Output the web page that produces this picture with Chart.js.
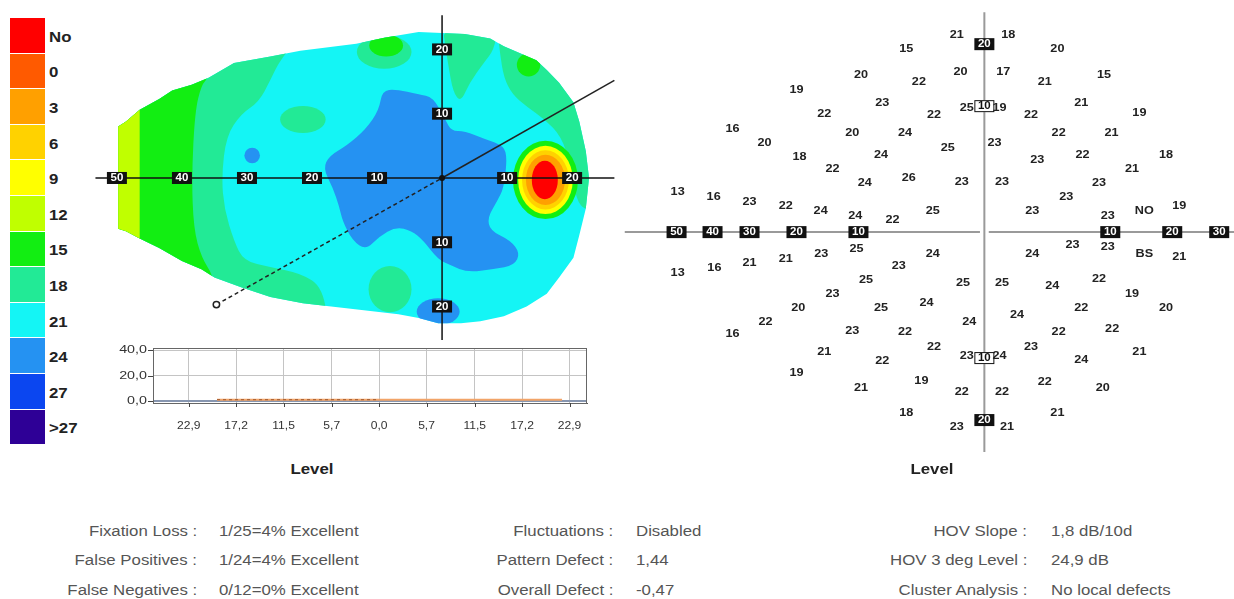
<!DOCTYPE html>
<html>
<head>
<meta charset="utf-8">
<script src="https://cdn.jsdelivr.net/npm/chart.js@4.4.1/dist/chart.umd.min.js"></script>
<style>
  html, body { margin: 0; padding: 0; background: #fff; }
  #page { position: relative; width: 1234px; height: 599px; overflow: hidden; font-family: Arial, "Liberation Sans", sans-serif; }
  canvas { position: absolute; }
  .swatch { position: absolute; left: 10px; width: 35px; }
  .swatch-label { position: absolute; left: 49px; font: bold 14px Arial, sans-serif; color: #222; line-height: 16px;
                  transform: scaleX(1.2); transform-origin: left center; }
  .level { position: absolute; font: bold 14px Arial, sans-serif; color: #222; transform: translateX(-50%) scaleX(1.2); }
  .stat { position: absolute; font: 14px Arial, sans-serif; color: #555; line-height: 16px; white-space: nowrap; }
  .stat.lab { transform: scaleX(1.2); transform-origin: right center; }
  .stat.val { transform: scaleX(1.2); transform-origin: left center; }
</style>
</head>
<body>
<div id="page">
  <div id="legend"></div>
  <canvas id="map-chart" style="left:88px;top:6px" width="541" height="343"></canvas>
  <canvas id="profile-chart" style="left:100px;top:340px" width="500" height="100"></canvas>
  <canvas id="numeric-chart" style="left:619px;top:0px" width="615" height="460"></canvas>
  <div class="level" style="left:312px;top:461px">Level</div>
  <div class="level" style="left:932px;top:461px">Level</div>
  <div id="stats"></div>
</div>
<script>
/* ── Colour scale (dB) ── */
const levelLabels = ['No', '0', '3', '6', '9', '12', '15', '18', '21', '24', '27', '>27'];
const levelColors = ['#FF0000', '#FF5A00', '#FFA000', '#FFD200', '#FFFF00', '#C0FF00',
                     '#12EE12', '#22EA96', '#14F5F5', '#2592F2', '#0B46F0', '#2E0096'];

/* ── Left map: tested area and contour zones, in degrees ── */
const fieldEdge = [[-49.8,8.0],[-48.6,8.8],[-46.5,10.6],[-43.5,12.3],[-41.5,13.6],[-38.5,14.5],[-35.9,15.6],
  [-32.0,17.9],[-26.4,18.9],[-21.8,19.8],[-13.2,20.9],[-8.9,21.8],[-3.6,22.7],[3.5,22.4],[7.4,21.7],[9.5,20.5],
  [12.0,19.4],[14.5,18.3],[16.1,16.8],[18.0,14.8],[20.2,11.8],[21.1,8.8],[22.1,4.2],[22.6,0],[22.1,-4.8],
  [21.1,-8.9],[20.2,-12.4],[18.0,-15.5],[16.1,-18.0],[13.0,-20.0],[9.5,-21.5],[5.9,-22.3],[2.9,-22.6],
  [-0.6,-22.6],[-3.6,-21.8],[-6.7,-21.2],[-12.7,-20.5],[-21.4,-19.5],[-26.4,-18.5],[-30.9,-17.0],[-35.0,-15.5],
  [-37.0,-14.2],[-40.0,-12.9],[-43.5,-10.9],[-46.5,-9.4],[-48.6,-8.3],[-49.8,-7.9]];

const zone18West = [[-20.3,23.9],[-24.8,18.6],[-26.4,15.2],[-28.2,11.8],[-30.9,10],[-33.2,6.5],[-33.9,0.2],
  [-33.5,-4.8],[-32,-9.8],[-30.5,-12.9],[-26.4,-13.9],[-21.8,-14.8],[-18.3,-17],[-17.3,-24.5],[-53.6,-24.5],[-53.6,23.9]];
const zone15West = [[-34.7,23.9],[-35.9,15.6],[-37,14.5],[-38,10.3],[-38.5,0.2],[-38.2,-7.9],[-37,-12.4],
  [-35,-15.5],[-33.6,-24.5],[-53.6,-24.5],[-53.6,23.9]];
const zone12West = [[-53.6,23.9],[-46.5,23.9],[-46.5,-24.5],[-53.6,-24.5]];
const zone18North = [[0.15,23.2],[8.5,23.2],[8,20],[6.4,17.9],[4.2,14.8],[2.9,11.8],[1.7,13.3],[0.9,17.9],[0.45,20.9]];
const zone18Rim = [[8.5,23.2],[26.7,23.2],[26.7,-4.8],[22.1,-5.2],[20.6,-3.3],[19.8,2],[18.3,6.5],[15.8,9.1],
  [13,11.1],[10.8,13],[9.5,15.6],[8.9,19.4]];
const zone24Centre = [[-18.3,1.5],[-17.3,3.5],[-14.7,5],[-11.7,7.6],[-9.7,10.6],[-9.2,13.6],[-7.1,13.8],[-3.6,13],
  [-1.4,12.6],[0.5,9.1],[1.4,7.3],[3.5,7.3],[6.5,6.1],[9.5,5],[10,3],[9.5,-1.5],[8.5,-3.6],[7,-6.1],[7.4,-8.2],
  [10.5,-9.7],[12,-11.7],[11.1,-13.6],[8,-14.2],[3.9,-14.7],[1.4,-13.6],[-0.6,-12.7],[-2.9,-9.7],[-4.7,-8.2],
  [-7.1,-7.6],[-9.7,-9.1],[-11.7,-11.2],[-13.8,-9.7],[-15.3,-6.7],[-15.8,-4.5],[-16.8,-1.5]];

const zones = [
  { pts: zone18West, level: 7, smooth: true },
  { pts: zone15West, level: 6, smooth: true },
  { pts: zone12West, level: 5, smooth: false },
  { pts: zone18North, level: 7, smooth: true },
  { pts: zone18Rim, level: 7, smooth: true },
  { pts: zone24Centre, level: 9, smooth: true }
];

// small patches: centre and radii in degrees
const spots = [
  { x: -21.4, y: 9.1, rx: 3.5, ry: 2.1, level: 7 },
  { x: -29.2, y: 3.5, rx: 1.2, ry: 1.2, level: 9 },
  { x: -8.9, y: 19.6, rx: 4.2, ry: 2.6, level: 7 },
  { x: -8.6, y: 20.6, rx: 2.6, ry: 1.7, level: 6 },
  { x: 13.3, y: 17.6, rx: 1.8, ry: 1.8, level: 6 },
  { x: -8.0, y: -17.3, rx: 3.3, ry: 3.6, level: 7 },
  { x: -0.6, y: -20.8, rx: 3.3, ry: 2.1, level: 9 },
  // blind spot
  { x: 15.9, y: -0.3, rx: 5.0, ry: 6.1, level: 6 },
  { x: 15.9, y: -0.3, rx: 4.2, ry: 5.3, level: 4 },
  { x: 15.9, y: -0.3, rx: 3.6, ry: 4.6, level: 3 },
  { x: 15.9, y: -0.3, rx: 3.0, ry: 3.9, level: 2 },
  { x: 15.8, y: -0.3, rx: 2.0, ry: 3.0, level: 0 }
];

const meridianH = [[-53.3, 0], [26.5, 0]];
const meridianV = [[0, 25.3], [0, -25.2]];
const sectionNear = [[-34.7, -19.7], [0, 0]];
const sectionFar = [[0, 0], [26.5, 15.2]];
const mapTicksX = [-50, -40, -30, -20, -10, 10, 20];
const mapTicksY = [20, 10, -10, -20];

/* ── Profile along the section line ── */
const profileTicks = [-22.9, -17.2, -11.5, -5.7, 0, 5.7, 11.5, 17.2, 22.9];
const profileTickLabels = ['22,9', '17,2', '11,5', '5,7', '0,0', '5,7', '11,5', '17,2', '22,9'];
const depthTicks = [0, 20, 40];
const depthTickLabels = ['0,0', '20,0', '40,0'];
const profileX = [-19.5, 0, 22.0];
const profileY = [1, 1, 1];

/* ── Right plot: threshold values at test locations (deg) ── */
const fieldX = [-6.2,-2.2,-9.8,-5.2,-1.9,-20.0,-8.1,-4.0,-1.4,-15.5,
  -34.6,-11.0,-6.3,-2.9,-26.8,-19.5,-8.2,-14.2,-6.0,-1.8,
  -9.5,-49.7,-39.7,-30.0,-22.3,-16.1,-10.5,-7.3,-4.1,
  1.9,5.8,1.5,4.8,9.5,1.2,3.7,7.7,14.7,5.9,10.2,
  0.8,4.2,7.8,19.0,13.5,1.4,9.1,6.5,3.8,9.8,15.5,21.5,
  -10.3,-16.0,-22.3,-30.0,-39.5,-49.7,-6.8,-9.4,-14.2,-8.2,
  -19.7,-26.6,-34.6,-11.0,-6.3,-15.5,-8.1,-20.0,-9.8,-6.2,
  -5.0,-4.1,-4.6,-4.0,-1.7,-1.2,-1.4,-1.8,-2.2,
  3.8,7.0,9.8,15.5,21.5,1.4,5.4,9.1,13.5,19.0,
  2.6,7.7,5.9,10.3,1.2,3.7,7.7,14.7,1.4,4.8,9.4,5.8,1.8];
const fieldY = [19.2,21.9,15.0,13.9,15.5,12.7,10.5,9.3,9.9,9.4,
  8.2,7.9,7.9,6.7,7.1,6.0,6.1,5.0,4.3,4.0,
  3.9,3.2,2.8,2.4,2.1,1.7,1.3,1.0,1.7,
  21.9,19.2,15.6,13.9,15.0,9.9,9.3,10.5,9.5,7.9,7.9,
  7.1,5.7,6.1,6.1,5.0,4.0,3.9,2.8,1.7,1.3,1.7,2.1,
  -1.3,-1.7,-2.1,-2.4,-2.8,-3.2,-2.7,-3.8,-4.9,-6.0,
  -6.0,-7.1,-8.1,-7.8,-7.9,-9.5,-10.5,-12.4,-14.8,-18.9,
  -13.7,-1.7,-5.6,-9.1,-4.0,-7.1,-9.8,-15.5,-21.5,
  -1.7,-1.0,-1.2,-1.7,-2.0,-4.0,-4.3,-3.7,-4.9,-6.0,
  -6.6,-6.0,-7.9,-7.7,-9.8,-9.1,-10.3,-9.5,-15.5,-13.9,-14.8,-18.9,-21.5];
const fieldVal = [15,21,20,22,20,19,23,22,25,22,
  16,20,24,25,20,18,24,22,26,23,
  24,13,16,23,22,24,24,22,25,
  18,20,17,21,15,19,22,21,19,22,21,
  23,23,22,18,21,23,23,23,23,23,'NO',19,
  25,23,21,21,16,13,23,25,23,25,
  20,22,16,23,22,21,22,19,21,18,
  19,24,24,22,25,24,23,22,23,
  24,23,23,'BS',21,25,24,22,19,20,
  24,22,22,22,24,23,24,21,22,22,20,21,21];
const numTicksX = [-50, -40, -30, -20, -10, 10, 20, 30];
const numTicksY = [20, 10, -10, -20];

/* ── Indices ── */
const statLabels = [
  ['Fixation Loss :', 'False Positives :', 'False Negatives :'],
  ['Fluctuations :', 'Pattern Defect :', 'Overall Defect :'],
  ['HOV Slope :', 'HOV 3 deg Level :', 'Cluster Analysis :']
];
const statValues = [
  ['1/25=4% Excellent', '1/24=4% Excellent', '0/12=0% Excellent'],
  ['Disabled', '1,44', '-0,47'],
  ['1,8 dB/10d', '24,9 dB', 'No local defects']
];

/* ═══════════════════════════════════════════════
   NON-LINEAR SCALE for the numeric plot
   ═══════════════════════════════════════════════ */
const warpKnots = [[0, 0], [10, 126], [20, 188], [30, 235], [40, 272], [50, 308], [80, 416]];

function warp(v) {
  const a = Math.abs(v);
  for (let i = 1; i < warpKnots.length; i++) {
    const [d0, p0] = warpKnots[i - 1], [d1, p1] = warpKnots[i];
    if (a <= d1 || i === warpKnots.length - 1) {
      return Math.sign(v) * (p0 + (a - d0) * (p1 - p0) / (d1 - d0));
    }
  }
  return 0;
}

function unwarp(w) {
  const a = Math.abs(w);
  for (let i = 1; i < warpKnots.length; i++) {
    const [d0, p0] = warpKnots[i - 1], [d1, p1] = warpKnots[i];
    if (a <= p1 || i === warpKnots.length - 1) {
      return Math.sign(w) * (d0 + (a - p0) * (d1 - d0) / (p1 - p0));
    }
  }
  return 0;
}

class WarpScale extends Chart.LinearScale {
  static id = 'warp';
  static defaults = Chart.LinearScale.defaults;
  getPixelForValue(value) {
    if (value === null || value === undefined) return NaN;
    const w0 = warp(this.min), w1 = warp(this.max);
    return this.getPixelForDecimal((warp(value) - w0) / (w1 - w0));
  }
  getValueForPixel(pixel) {
    const w0 = warp(this.min), w1 = warp(this.max);
    return unwarp(w0 + this.getDecimalForPixel(pixel) * (w1 - w0));
  }
}
Chart.register(WarpScale);

/* ── helpers ── */
const toXY = pts => pts.map(([x, y]) => ({ x, y }));

// text stretched sideways, as in the printout
function wideText(ctx, text, px, py, sx) {
  ctx.save();
  ctx.translate(px, py);
  ctx.scale(sx, 1);
  ctx.fillText(text, 0, 0);
  ctx.restore();
}

function drawTag(ctx, text, px, py, dark) {
  ctx.font = 'bold 10px Arial';
  const w = Math.max(20, ctx.measureText(text).width * 1.15 + 6), h = 12;
  ctx.fillStyle = dark ? '#111' : '#fff';
  ctx.fillRect(px - w / 2, py - h / 2, w, h);
  if (!dark) {
    ctx.strokeStyle = '#111';
    ctx.lineWidth = 1;
    ctx.strokeRect(px - w / 2 + 0.5, py - h / 2 + 0.5, w - 1, h - 1);
  }
  ctx.fillStyle = dark ? '#fff' : '#111';
  ctx.textAlign = 'center';
  ctx.textBaseline = 'middle';
  wideText(ctx, text, px, py + 0.5, 1.15);
}

/* ═══════════════════════════════════════════════
   LEGEND + TEXT
   ═══════════════════════════════════════════════ */
const legendEl = document.getElementById('legend');
levelLabels.forEach((lab, i) => {
  const top = 18 + i * 35.6;
  const sw = document.createElement('div');
  sw.className = 'swatch';
  sw.style.top = top + 'px';
  sw.style.height = '34.6px';
  sw.style.background = levelColors[i];
  legendEl.appendChild(sw);
  const tx = document.createElement('div');
  tx.className = 'swatch-label';
  tx.style.top = (top + 17.3 - 6.5) + 'px';
  tx.textContent = lab;
  legendEl.appendChild(tx);
});

const statsEl = document.getElementById('stats');
const statLabelRight = [197, 613, 1027];
const statValueLeft = [219, 636, 1051];
const statRowY = [531, 560, 590];
statLabels.forEach((col, c) => {
  col.forEach((lab, r) => {
    const l = document.createElement('div');
    l.className = 'stat lab';
    l.style.right = (1234 - statLabelRight[c]) + 'px';
    l.style.top = (statRowY[r] - 8) + 'px';
    l.textContent = lab;
    statsEl.appendChild(l);
    const v = document.createElement('div');
    v.className = 'stat val';
    v.style.left = statValueLeft[c] + 'px';
    v.style.top = (statRowY[r] - 8) + 'px';
    v.textContent = statValues[c][r];
    statsEl.appendChild(v);
  });
});

/* ═══════════════════════════════════════════════
   LEFT MAP
   ═══════════════════════════════════════════════ */
const fieldMapPlugin = {
  id: 'fieldMap',
  beforeDatasetsDraw(chart) {
    const { ctx, scales: { x, y } } = chart;
    const P = ([a, b]) => [x.getPixelForValue(a), y.getPixelForValue(b)];
    const trace = (pts, smooth) => {
      const px = pts.map(P);
      ctx.beginPath();
      if (!smooth) {
        px.forEach(([a, b], i) => (i ? ctx.lineTo(a, b) : ctx.moveTo(a, b)));
      } else {
        const n = px.length;
        const mid = i => [(px[i % n][0] + px[(i + 1) % n][0]) / 2, (px[i % n][1] + px[(i + 1) % n][1]) / 2];
        const m0 = mid(0);
        ctx.moveTo(m0[0], m0[1]);
        for (let i = 1; i <= n; i++) {
          const p = px[i % n], m = mid(i);
          ctx.quadraticCurveTo(p[0], p[1], m[0], m[1]);
        }
      }
      ctx.closePath();
    };
    ctx.save();
    trace(fieldEdge, false);
    ctx.fillStyle = levelColors[8];
    ctx.fill();
    ctx.clip();
    zones.forEach(z => {
      trace(z.pts, z.smooth);
      ctx.fillStyle = levelColors[z.level];
      ctx.fill();
    });
    spots.forEach(s => {
      const [cx, cy] = P([s.x, s.y]);
      const rx = Math.abs(x.getPixelForValue(s.x + s.rx) - cx);
      const ry = Math.abs(y.getPixelForValue(s.y + s.ry) - cy);
      ctx.beginPath();
      ctx.ellipse(cx, cy, rx, ry, 0, 0, Math.PI * 2);
      ctx.fillStyle = levelColors[s.level];
      ctx.fill();
    });
    ctx.restore();
  },
  afterDatasetsDraw(chart) {
    const { ctx, scales: { x, y } } = chart;
    ctx.save();
    mapTicksX.forEach(v => drawTag(ctx, String(Math.abs(v)), x.getPixelForValue(v), y.getPixelForValue(0), true));
    mapTicksY.forEach(v => drawTag(ctx, String(Math.abs(v)), x.getPixelForValue(0), y.getPixelForValue(v), true));
    ctx.restore();
  }
};

new Chart(document.getElementById('map-chart'), {
  type: 'scatter',
  data: {
    datasets: [
      { data: [{ x: 0, y: 0 }], pointRadius: 3, pointBackgroundColor: '#111', pointBorderWidth: 0 },
      { data: toXY([sectionNear[0]]), pointRadius: 3.2, pointBackgroundColor: '#fff', pointBorderColor: '#222', pointBorderWidth: 1.5 },
      { data: toXY(meridianH), showLine: true, borderColor: '#111', borderWidth: 1.5, pointRadius: 0 },
      { data: toXY(meridianV), showLine: true, borderColor: '#111', borderWidth: 1.5, pointRadius: 0 },
      { data: toXY(sectionFar), showLine: true, borderColor: '#222', borderWidth: 1.5, pointRadius: 0 },
      { data: toXY(sectionNear), showLine: true, borderColor: '#222', borderWidth: 1.5, borderDash: [4, 3], pointRadius: 0 }
    ]
  },
  options: {
    responsive: false,
    animation: false,
    layout: { padding: 0 },
    plugins: { legend: { display: false }, tooltip: { enabled: false } },
    scales: {
      x: { type: 'linear', min: -53.6, max: 27.9, display: false },
      y: { type: 'linear', min: -25.75, max: 25.9, display: false }
    }
  },
  plugins: [fieldMapPlugin]
});

/* ═══════════════════════════════════════════════
   PROFILE CHART
   ═══════════════════════════════════════════════ */
const profileFrame = {
  id: 'profileFrame',
  afterDraw(chart) {
    const { ctx, chartArea: a, scales: { x, y } } = chart;
    ctx.save();
    ctx.strokeStyle = '#666';
    ctx.lineWidth = 1;
    ctx.strokeRect(a.left + 0.5, a.top + 0.5, a.right - a.left - 1, a.bottom - a.top);
    ctx.strokeStyle = '#444';
    ctx.beginPath();
    depthTicks.forEach(v => {
      const py = Math.round(y.getPixelForValue(v)) + 0.5;
      ctx.moveTo(a.left - 5, py);
      ctx.lineTo(a.left, py);
    });
    profileTicks.forEach(v => {
      const px = Math.round(x.getPixelForValue(v)) + 0.5;
      ctx.moveTo(px, a.bottom);
      ctx.lineTo(px, a.bottom + 4);
    });
    ctx.stroke();
    ctx.fillStyle = '#333';
    ctx.font = '11px Arial';
    ctx.textBaseline = 'middle';
    ctx.textAlign = 'right';
    depthTicks.forEach((v, i) => wideText(ctx, depthTickLabels[i], a.left - 6, y.getPixelForValue(v), 1.3));
    ctx.textAlign = 'center';
    profileTicks.forEach((v, i) => wideText(ctx, profileTickLabels[i], x.getPixelForValue(v), a.bottom + 23, 1.1));
    ctx.restore();
  }
};

new Chart(document.getElementById('profile-chart'), {
  type: 'scatter',
  data: {
    datasets: [
      { data: profileX.slice(0, 2).map((v, i) => ({ x: v, y: profileY[i] })), showLine: true,
        borderColor: '#A0582C', borderWidth: 1, borderDash: [3, 3], pointRadius: 0 },
      { data: profileX.map((v, i) => ({ x: v, y: profileY[i] })), showLine: true,
        borderColor: '#F2A468', borderWidth: 2, pointRadius: 0 }
    ]
  },
  options: {
    responsive: false,
    animation: false,
    layout: { padding: { left: 53, right: 13, top: 8, bottom: 37 } },
    plugins: { legend: { display: false }, tooltip: { enabled: false } },
    scales: {
      x: {
        type: 'linear', min: -27.2, max: 25,
        afterBuildTicks: axis => { axis.ticks = profileTicks.map(v => ({ value: v })); },
        ticks: { display: false },
        grid: { color: '#c4c4c4', drawTicks: false },
        border: { color: '#555' }
      },
      y: {
        type: 'linear', min: -1.6, max: 41.6,
        afterBuildTicks: axis => { axis.ticks = depthTicks.map(v => ({ value: v })); },
        ticks: { display: false },
        grid: {
          color: c => (c.tick && c.tick.value === 0 ? '#8796b0' : '#c4c4c4'),
          lineWidth: c => (c.tick && c.tick.value === 0 ? 2 : 1),
          drawTicks: false
        },
        border: { color: '#555' }
      }
    }
  },
  plugins: [profileFrame]
});

/* ═══════════════════════════════════════════════
   NUMERIC PLOT
   ═══════════════════════════════════════════════ */
const numericLabels = {
  id: 'numericLabels',
  afterDatasetsDraw(chart) {
    const { ctx, scales: { x, y } } = chart;
    const meta = chart.getDatasetMeta(3);
    ctx.save();
    numTicksX.forEach(v => drawTag(ctx, String(Math.abs(v)), x.getPixelForValue(v), y.getPixelForValue(0), true));
    numTicksY.forEach(v => drawTag(ctx, String(Math.abs(v)), x.getPixelForValue(0), y.getPixelForValue(v), Math.abs(v) !== 10));
    ctx.font = 'bold 11.5px Arial';
    ctx.fillStyle = '#222';
    ctx.textAlign = 'center';
    ctx.textBaseline = 'middle';
    meta.data.forEach((pt, i) => wideText(ctx, String(fieldVal[i]), pt.x, pt.y, 1.1));
    ctx.restore();
  }
};

new Chart(document.getElementById('numeric-chart'), {
  type: 'scatter',
  data: {
    datasets: [
      { data: [{ x: -64.4, y: 0 }, { x: -0.35, y: 0 }], showLine: true, borderColor: '#9a9a9a', borderWidth: 2, pointRadius: 0 },
      { data: [{ x: 0.35, y: 0 }, { x: 34, y: 0 }], showLine: true, borderColor: '#9a9a9a', borderWidth: 2, pointRadius: 0 },
      { data: [{ x: 0, y: 26.8 }, { x: 0, y: -26.8 }], showLine: true, borderColor: '#9a9a9a', borderWidth: 2, pointRadius: 0 },
      { data: fieldX.map((v, i) => ({ x: v, y: fieldY[i] })), pointRadius: 0, showLine: false }
    ]
  },
  options: {
    responsive: false,
    animation: false,
    layout: { padding: 0 },
    plugins: { legend: { display: false }, tooltip: { enabled: false } },
    scales: {
      x: { type: 'warp', min: -66, max: 34, display: false },
      y: { type: 'warp', min: -28.5, max: 29.4, display: false }
    }
  },
  plugins: [numericLabels]
});
</script>
</body>
</html>
